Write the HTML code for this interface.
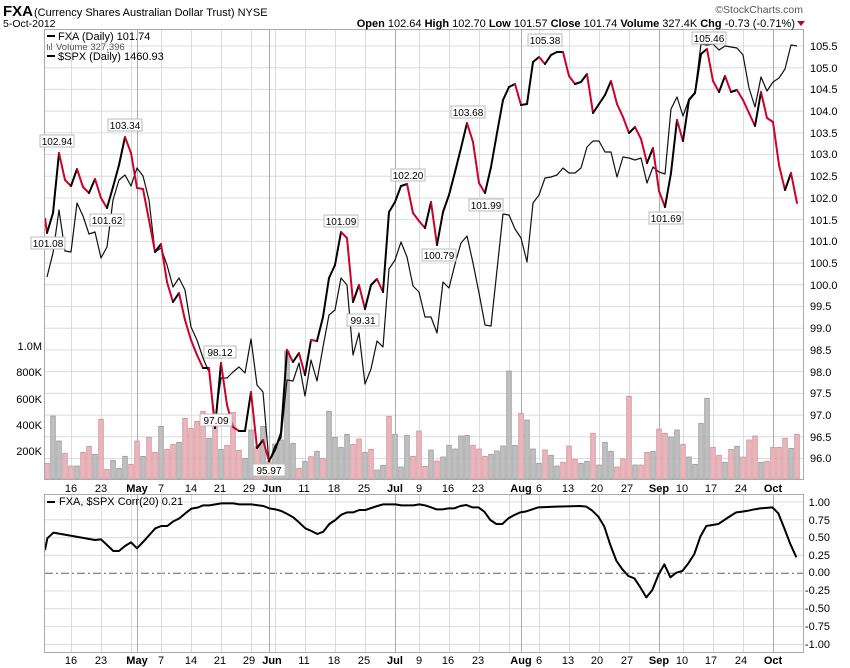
<!DOCTYPE html>
<html><head><meta charset="utf-8"><style>
body{margin:0;background:#fff;}
svg{display:block;font-family:"Liberation Sans",Arial,sans-serif;}
</style></head><body>
<svg id="s" width="850" height="668" xmlns="http://www.w3.org/2000/svg">
<rect width="850" height="668" fill="#fff"/>
<g id="grid"></g>
<g id="vol"></g>
<g id="lines"></g>
<rect x="44.5" y="29.5" width="759" height="450" fill="none" stroke="#aaa"/>
<rect x="44.5" y="494.5" width="759" height="158" fill="none" stroke="#aaa"/>
<!-- header -->
<text x="3" y="16" font-size="15" font-weight="bold">FXA</text>
<text x="34" y="16" font-size="11">(Currency Shares Australian Dollar Trust) NYSE</text>
<text x="3" y="27" font-size="10.5">5-Oct-2012</text>
<text x="803" y="13" font-size="10.5" fill="#555" text-anchor="end">©StockCharts.com</text>
<text x="795" y="27" font-size="11" text-anchor="end"><tspan font-weight="bold">Open</tspan> 102.64 <tspan font-weight="bold">High</tspan> 102.70 <tspan font-weight="bold">Low</tspan> 101.57 <tspan font-weight="bold">Close</tspan> 101.74 <tspan font-weight="bold">Volume</tspan> 327.4K <tspan font-weight="bold">Chg</tspan> -0.73 (-0.71%)</text>
<polygon points="797,21 805,21 801,26" fill="#c00020"/>
<!-- legend -->
<rect x="47" y="35" width="8" height="2" fill="#000"/>
<text x="58" y="40" font-size="11">FXA (Daily) 101.74</text>
<g fill="#777"><rect x="47" y="44" width="1" height="6"/><rect x="49" y="46" width="1" height="4"/><rect x="51" y="43" width="1" height="7"/></g>
<text x="56" y="50" font-size="9.5" fill="#555">Volume 327,396</text>
<rect x="47" y="55" width="8" height="2" fill="#000"/>
<text x="58" y="60" font-size="11">$SPX (Daily) 1460.93</text>
<!-- right price axis -->
<g font-size="11" fill="#000">
<text x="810" y="50">105.5</text><text x="810" y="72">105.0</text><text x="810" y="93">104.5</text><text x="810" y="115">104.0</text><text x="810" y="137">103.5</text><text x="810" y="158">103.0</text><text x="810" y="180">102.5</text><text x="810" y="202">102.0</text><text x="810" y="224">101.5</text><text x="810" y="245">101.0</text><text x="810" y="267">100.5</text><text x="810" y="289">100.0</text><text x="810" y="310">99.5</text><text x="810" y="332">99.0</text><text x="810" y="354">98.5</text><text x="810" y="376">98.0</text><text x="810" y="397">97.5</text><text x="810" y="419">97.0</text><text x="810" y="441">96.5</text><text x="810" y="462">96.0</text>
</g>
<g font-size="11" text-anchor="end">
<text x="42" y="350">1.0M</text><text x="42" y="376">800K</text><text x="42" y="403">600K</text><text x="42" y="429">400K</text><text x="42" y="455">200K</text>
</g>
<!-- corr axis -->
<g font-size="11" text-anchor="end">
<text x="830" y="506">1.00</text><text x="830" y="524">0.75</text><text x="830" y="541">0.50</text><text x="830" y="559">0.25</text><text x="830" y="576">0.00</text><text x="830" y="594">-0.25</text><text x="830" y="612">-0.50</text><text x="830" y="630">-0.75</text><text x="830" y="648">-1.00</text>
</g>
<rect x="47" y="501" width="8" height="2" fill="#000"/>
<text x="59" y="505" font-size="11">FXA, $SPX Corr(20) 0.21</text>
<!-- date labels -->
<g font-size="11" text-anchor="middle" id="d1">
<text x="71" y="492">16</text><text x="101" y="492">23</text><text x="137" y="492" font-weight="bold">May</text><text x="161" y="492">7</text><text x="191" y="492">14</text><text x="220" y="492">21</text><text x="249" y="492">29</text><text x="272" y="492" font-weight="bold">Jun</text><text x="304" y="492">11</text><text x="334" y="492">18</text><text x="364" y="492">25</text><text x="395" y="492" font-weight="bold">Jul</text><text x="419" y="492">9</text><text x="448" y="492">16</text><text x="478" y="492">23</text><text x="521" y="492" font-weight="bold">Aug</text><text x="539" y="492">6</text><text x="568" y="492">13</text><text x="597" y="492">20</text><text x="627" y="492">27</text><text x="659" y="492" font-weight="bold">Sep</text><text x="682" y="492">10</text><text x="711" y="492">17</text><text x="741" y="492">24</text><text x="773" y="492" font-weight="bold">Oct</text>
</g>
<g font-size="11" text-anchor="middle">
<text x="71" y="664">16</text><text x="101" y="664">23</text><text x="137" y="664" font-weight="bold">May</text><text x="161" y="664">7</text><text x="191" y="664">14</text><text x="220" y="664">21</text><text x="249" y="664">29</text><text x="272" y="664" font-weight="bold">Jun</text><text x="304" y="664">11</text><text x="334" y="664">18</text><text x="364" y="664">25</text><text x="395" y="664" font-weight="bold">Jul</text><text x="419" y="664">9</text><text x="448" y="664">16</text><text x="478" y="664">23</text><text x="521" y="664" font-weight="bold">Aug</text><text x="539" y="664">6</text><text x="568" y="664">13</text><text x="597" y="664">20</text><text x="627" y="664">27</text><text x="659" y="664" font-weight="bold">Sep</text><text x="682" y="664">10</text><text x="711" y="664">17</text><text x="741" y="664">24</text><text x="773" y="664" font-weight="bold">Oct</text>
</g>
<!-- price labels -->
<g font-size="10" text-anchor="middle" id="pl">
<g><rect x="31" y="237" width="34" height="12" fill="#fff" stroke="#bbb"/><text x="48" y="247">101.08</text></g>
<g><rect x="40" y="135" width="34" height="12" fill="#fff" stroke="#bbb"/><text x="57" y="145">102.94</text></g>
<g><rect x="108" y="119" width="34" height="12" fill="#fff" stroke="#bbb"/><text x="125" y="129">103.34</text></g>
<g><rect x="90" y="214" width="34" height="12" fill="#fff" stroke="#bbb"/><text x="107" y="224">101.62</text></g>
<g><rect x="204" y="346" width="32" height="12" fill="#fff" stroke="#bbb"/><text x="220" y="356">98.12</text></g>
<g><rect x="200" y="414" width="32" height="12" fill="#fff" stroke="#bbb"/><text x="216" y="424">97.09</text></g>
<g><rect x="253" y="464" width="32" height="12" fill="#fff" stroke="#bbb"/><text x="269" y="474">95.97</text></g>
<g><rect x="324" y="215" width="34" height="12" fill="#fff" stroke="#bbb"/><text x="341" y="225">101.09</text></g>
<g><rect x="347" y="314" width="32" height="12" fill="#fff" stroke="#bbb"/><text x="363" y="324">99.31</text></g>
<g><rect x="391" y="169" width="34" height="12" fill="#fff" stroke="#bbb"/><text x="408" y="179">102.20</text></g>
<g><rect x="422" y="249" width="34" height="12" fill="#fff" stroke="#bbb"/><text x="439" y="259">100.79</text></g>
<g><rect x="451" y="106" width="34" height="12" fill="#fff" stroke="#bbb"/><text x="468" y="116">103.68</text></g>
<g><rect x="469" y="199" width="34" height="12" fill="#fff" stroke="#bbb"/><text x="486" y="209">101.99</text></g>
<g><rect x="528" y="34" width="34" height="12" fill="#fff" stroke="#bbb"/><text x="545" y="44">105.38</text></g>
<g><rect x="649" y="212" width="34" height="12" fill="#fff" stroke="#bbb"/><text x="666" y="222">101.69</text></g>
<g><rect x="692" y="32" width="34" height="12" fill="#fff" stroke="#bbb"/><text x="709" y="42">105.46</text></g>
</g>
</svg>
<script>
var NS="http://www.w3.org/2000/svg";
function el(p,t,a){var e=document.createElementNS(NS,t);for(var k in a)e.setAttribute(k,a[k]);p.appendChild(e);return e;}
var X=function(i){return 47+6*i;};
var grid=document.getElementById('grid'),vol=document.getElementById('vol'),lines=document.getElementById('lines');
// horizontal grid main
for(var k=0;k<20;k++){var y=46+k*21.71;el(grid,'line',{x1:45,x2:803,y1:y,y2:y,stroke:'#dcdcdc','stroke-width':1});}
for(var k=0;k<9;k++){var y=502+k*17.8;el(grid,'line',{x1:45,x2:803,y1:y,y2:y,stroke:k==4?'#666':'#dcdcdc','stroke-width':1,'stroke-dasharray':k==4?'8,3,2,3':''});}
var weeks=[4,9,14,19,24,29,34,38,43,48,53,58,62,67,72,77,82,87,92,97,102,106,111,116,121];
var months=[15,37,58,79,102,121];
weeks.forEach(function(i){[[30,480],[495,652]].forEach(function(r){el(grid,'line',{x1:X(i)+.5,x2:X(i)+.5,y1:r[0],y2:r[1],stroke:'#dcdcdc'});});});
months.forEach(function(i){[[30,480],[495,652]].forEach(function(r){el(grid,'line',{x1:X(i)+.5,x2:X(i)+.5,y1:r[0],y2:r[1],stroke:'#aaa'});});});
// volume
var vz=[400,258,333,370,408,408,367,349,373,268,418,391,415,379,403,333,379,322,367,289,358,343,337,265,295,274,244,325,258,358,346,247,361,385,300,350,289,395,342,330,63,340,415,394,380,364,385,244,322,352,313,343,327,367,358,420,406,259,313,411,316,379,303,409,
360,393,381,346,357,318,316,346,357,379,373,363,348,123,346,250,270,357,400,360,376,408,397,348,388,400,394,310,405,337,364,411,387,199,405,405,367,364,297,310,321,300,343,381,403,280,205,352,376,397,358,349,381,330,318,397,394,352,352,325,355,313];
var vc="rggrrgrrgrrgggrrgrrgrrgrrrrgrgrrrggrgrggggrgrgrggggrrgrggrgggrrr"+"grgggggrrrgggggrgggrggrrrggrgggrrrgrrgrrggrggggrrgrgrrrgrrrrgr";
vz.forEach(function(z,i){var h=(447-z)/3;var r=vc[i]=='r';el(vol,'rect',{x:X(i)-2.3,y:479-h,width:4.6,height:h,fill:r?'#e8b6bb':'#bfbfbf',stroke:r?'#d6909a':'#9a9a9a','stroke-width':0.8});});
// SPX
var sp=[277,253,210,251,252,203,216,234,232,258,247,200,180,175,186,168,176,200,252,248,265,287,278,290,327,340,358,372,420,378,378,372,367,373,339,385,392,462,446,438,380,381,363,396,360,381,347,315,310,278,285,355,333,384,369,341,347,269,260,242,257,286,292,317,317,333,282,288,264,243,236,263,293,325,326,270,214,215,229,238,262,203,195,178,177,175,168,173,173,168,147,141,141,152,152,177,157,158,160,158,183,167,172,174,109,97,116,99,92,44,45,44,50,46,47,48,55,88,107,77,91,82,78,69,45,46];
el(lines,'polyline',{points:sp.map(function(y,i){return X(i)+','+y;}).join(' '),fill:'none',stroke:'#111','stroke-width':1.2,'stroke-linejoin':'round'});
var fx=[233,213,153,180,186,169,187,193,179,198,208,187,165,137,153,188,189,220,252,244,282,302,293,320,340,355,368,368,428,363,405,427,431,431,392,448,440,461,450,433,350,362,353,375,340,341,317,278,265,232,238,302,285,309,285,279,292,212,202,186,184,213,221,228,202,245,212,195,172,148,123,142,183,193,167,133,100,87,84,105,104,62,57,64,55,52,52,76,84,82,74,113,104,95,81,104,117,133,127,139,163,148,191,207,173,120,141,100,93,54,49,81,92,76,92,90,100,113,126,92,118,122,165,190,173,203];
el(lines,'line',{x1:45,y1:218,x2:X(0),y2:fx[0],stroke:'#d0002a','stroke-width':2});
for(var i=1;i<fx.length;i++){el(lines,'line',{x1:X(i-1),y1:fx[i-1],x2:X(i),y2:fx[i],stroke:fx[i]>fx[i-1]?'#d0002a':'#000','stroke-width':2,'stroke-linecap':'round'});}
// corr
var c1=[[135,210],[142,175],[160,158],[285,180],[303,178],[340,213],[357,213],[375,198],[393,187],[411,205],[430,185],[448,165],[466,145],[484,138],[502,138],[520,124],[538,115],[556,100],[574,86],[592,83],[610,76],[628,76],[664,70],[700,70],[718,73],[754,73],[790,78],[808,85],[826,88],[844,93],[862,102],[880,112],[898,128],[916,145],[934,153],[952,162],[970,155],[988,132],[1006,120],[1024,104],[1042,97],[1060,97],[1078,90],[1096,90],[1114,84],[1132,78],[1150,73],[1186,73],[1204,76],[1240,76],[1258,73],[1275,76]];
var c2=[[18,82],[34,88],[52,88],[70,85],[88,85],[106,78],[124,75],[142,82],[160,82],[178,95],[196,120],[214,132],[232,132],[250,115],[268,105],[286,97],[304,94],[322,88],[340,82],[394,80],[466,78],[484,80],[502,92],[520,110],[538,140],[556,195],[574,242],[592,268],[610,288],[628,295],[646,322],[664,352],[682,330],[700,285],[718,253],[736,292],[754,278],[772,273],[790,250],[808,222],[826,170],[844,138],[862,135],[880,132],[898,120],[916,108],[934,97],[952,95],[970,92],[988,88],[1006,85],[1042,82],[1060,100],[1078,145],[1096,192],[1114,232]];
var pts=c1.map(function(p){return (p[0]/3)+','+(480+p[1]/3);}).concat(c2.map(function(p){return (425+p[0]/3)+','+(480+p[1]/3);}));
el(lines,'polyline',{points:pts.join(' '),fill:'none',stroke:'#000','stroke-width':2,'stroke-linejoin':'round'});
// move labels on top
var s=document.getElementById('s');s.appendChild(document.getElementById('pl'));
</script>
</body></html>
